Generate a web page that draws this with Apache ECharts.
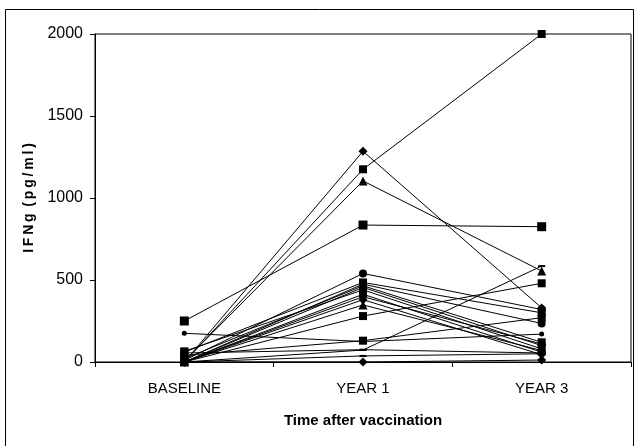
<!DOCTYPE html>
<html>
<head>
<meta charset="utf-8">
<script src="https://cdn.jsdelivr.net/npm/echarts@6/dist/echarts.min.js"></script>
<style>html,body{margin:0;padding:0;background:#fff}#c{width:636px;height:446px}</style>
</head>
<body>
<div id="c"></div>
<script>
const categories = ['BASELINE', 'YEAR 1', 'YEAR 3'];
const yTicks = [0, 500, 1000, 1500, 2000];

const s01 = [250, 835, 825];
const s02 = [0, 1285, 330];
const s03 = [0, 1175, 2000];
const s04 = [5, 1104, 555];
const s05 = [10, 540, 320];
const s06 = [60, 485, 300];
const s07 = [0, 475, 235];
const s08 = [20, 465, 120];
const s09 = [0, 455, 100];
const s10 = [65, 440, 80];
const s11 = [0, 413, 60];
const s12 = [0, 398, 110];
const s13 = [0, 380, 45];
const s14 = [0, 348, 70];
const s15 = [0, 280, 480];
const s16 = [175, 125, 170];
const s17 = [40, 130, 270];
const s18 = [0, 73, 585];
const s19 = [55, 75, 55];
const s20 = [0, 37, 50];
const s21 = [0, 0, 12];

const seriesValues = [s01,s02,s03,s04,s05,s06,s07,s08,s09,s10,s11,s12,s13,s14,s15,s16,s17,s18,s19,s20,s21];
const markerKinds = ['sqL','dia','sq','tri','cir','sq','cir','sq','dia','sq','cir','dia','dia','tri','sq','dot','sq','dash','dash','dash','dia'];

const markerStyle = {
  sqL: {symbol: 'rect', size: 9},
  sq: {symbol: 'rect', size: 8},
  dia: {symbol: 'diamond', size: 9},
  tri: {symbol: 'triangle', size: 9},
  cir: {symbol: 'circle', size: 8},
  dot: {symbol: 'circle', size: 5},
  dash: {symbol: 'rect', size: [7, 2]}
};

const chart = echarts.init(document.getElementById('c'), null, {renderer: 'canvas'});
const sans = "'Liberation Sans', Arial, sans-serif";
const yTitle = 'I\u2009F\u2009N\u2009g\u2009 (\u2009p\u2009g\u2009/\u2009m\u2009l\u2009)';

chart.setOption({
  animation: false,
  backgroundColor: '#fff',
  grid: {left: 95, right: 5, top: 34, bottom: 84, show: true, borderColor: '#000', borderWidth: 1, containLabel: false},
  graphic: [{
    type: 'rect', silent: true,
    shape: {x: 5.5, y: 9.5, width: 628, height: 450},
    style: {fill: 'none', stroke: '#000', lineWidth: 1}
  }],
  xAxis: {
    type: 'category', data: categories, boundaryGap: true,
    axisLine: {lineStyle: {color: '#000', width: 1}},
    axisTick: {show: true, length: 5, lineStyle: {color: '#000'}},
    axisLabel: {color: '#000', fontFamily: sans, fontSize: 15, margin: 19},
    name: 'Time after vaccination', nameLocation: 'middle', nameGap: 51,
    nameTextStyle: {color: '#000', fontFamily: sans, fontWeight: 'bold', fontSize: 15}
  },
  yAxis: {
    type: 'value', min: yTicks[0], max: yTicks[yTicks.length - 1], interval: 500,
    axisLine: {show: true, lineStyle: {color: '#000', width: 1}},
    axisTick: {show: true, length: 5, lineStyle: {color: '#000'}},
    splitLine: {show: false},
    axisLabel: {color: '#000', fontFamily: sans, fontSize: 16, margin: 12, formatter: v => String(v)},
    name: yTitle, nameLocation: 'middle', nameRotate: 90, nameGap: 56,
    nameTextStyle: {color: '#000', fontFamily: sans, fontWeight: 'bold', fontSize: 14}
  },
  series: seriesValues.map((vals, i) => {
    const m = markerStyle[markerKinds[i]];
    return {
      type: 'line', data: vals, clip: false,
      symbol: m.symbol, symbolSize: m.size, showAllSymbol: true,
      lineStyle: {color: '#000', width: 1},
      itemStyle: {color: '#000', borderColor: '#000', borderWidth: 0},
      emphasis: {disabled: true}
    };
  })
});
</script>
</body>
</html>
